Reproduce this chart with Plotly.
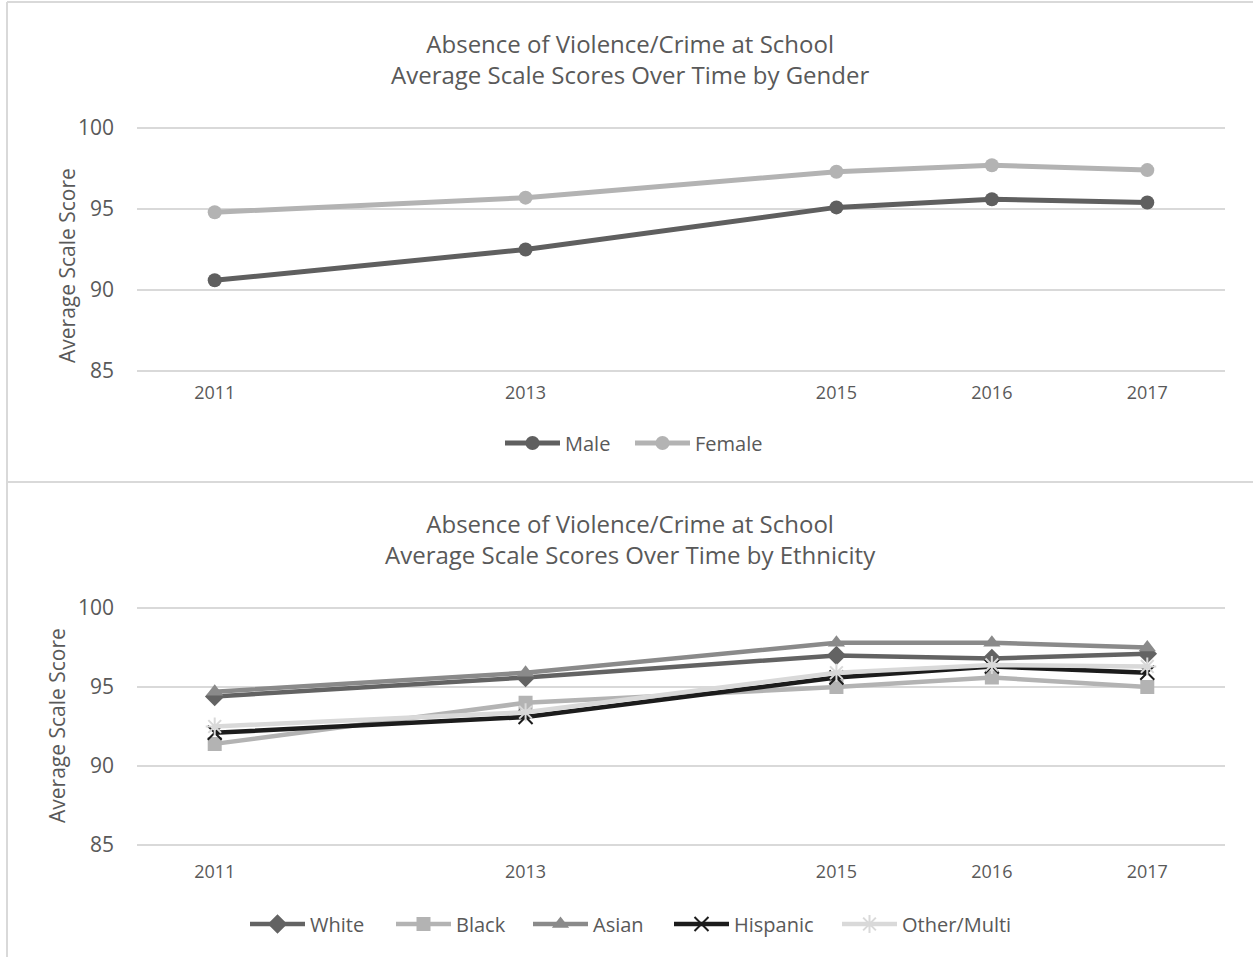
import plotly.graph_objects as go

years = [2011, 2013, 2015, 2016, 2017]
year_labels = ["2011", "2013", "2015", "2016", "2017"]

male = [90.6, 92.5, 95.1, 95.6, 95.4]
female = [94.8, 95.7, 97.3, 97.7, 97.4]

white = [94.4, 95.6, 97.0, 96.8, 97.1]
black = [91.4, 94.0, 95.0, 95.6, 95.0]
asian = [94.7, 95.9, 97.8, 97.8, 97.5]
hispanic = [92.1, 93.1, 95.6, 96.3, 95.9]
other = [92.5, 93.4, 95.9, 96.4, 96.3]

y_ticks = [85, 90, 95, 100]

FONT = "Open Sans"
TXT = "#595959"
W, H = 1253, 957

fig = go.Figure()

# legend item left edges (px) for each series
top_leg_x = [505, 635]
bot_leg_x = [250, 396, 533, 674, 842]

# Top chart (gender)
gender = [
    ("Male", male, "#5f5f5f"),
    ("Female", female, "#b3b3b3"),
]
for i, (name, vals, col) in enumerate(gender):
    fig.add_trace(go.Scatter(x=years, y=vals, name=name, mode="lines+markers",
                             line=dict(color=col, width=5),
                             marker=dict(symbol="circle", size=14, color=col),
                             xaxis="x", yaxis="y", legend="legend" if i == 0 else f"legend{i + 1}"))

# Bottom chart (ethnicity)
eth = [
    ("White", white, "#636363", dict(symbol="diamond", size=15, color="#636363")),
    ("Black", black, "#b3b3b3", dict(symbol="square", size=14, color="#b3b3b3")),
    ("Asian", asian, "#8a8a8a", dict(symbol="triangle-up", size=15, color="#8a8a8a")),
    ("Hispanic", hispanic, "#1c1c1c", dict(symbol="x-thin-open", size=14, color="#1c1c1c",
                                           line=dict(width=2, color="#1c1c1c"))),
    ("Other/Multi", other, "#d9d9d9", dict(symbol="asterisk-open", size=15, color="#d9d9d9",
                                           line=dict(width=2, color="#d9d9d9"))),
]
for j, (name, vals, col, mk) in enumerate(eth):
    fig.add_trace(go.Scatter(x=years, y=vals, name=name, mode="lines+markers",
                             line=dict(color=col, width=4.5), marker=mk,
                             xaxis="x2", yaxis="y2", legend=f"legend{j + 3}"))

PAD = 0.2
xdom = [137 / W, 1225 / W]
tpu = (371 - 128) / 15
top_dom = [1 - (371 + PAD * tpu) / H, 1 - (128 - PAD * tpu) / H]
bpu = (845 - 608) / 15
bot_dom = [1 - (845 + PAD * bpu) / H, 1 - (608 - PAD * bpu) / H]

xcommon = dict(range=[2010.5, 2017.5], tickvals=years, ticktext=year_labels,
               showgrid=False, zeroline=False, showline=False, ticks="", automargin=False,
               tickfont=dict(family=FONT, size=18, color=TXT), domain=xdom, fixedrange=True)
ycommon = dict(range=[85 - PAD, 100 + PAD], tickvals=y_ticks, showgrid=True, gridcolor="#d9d9d9",
               gridwidth=2, zeroline=False, showline=False, ticks="", automargin=False,
               tickfont=dict(family=FONT, size=21, color=TXT), ticklabelstandoff=22,
               fixedrange=True)


def leg(xpx, ypx):
    return dict(orientation="h", x=(xpx - 5) / W, xanchor="left", y=1 - ypx / H, yanchor="middle",
                font=dict(family=FONT, size=20, color=TXT), itemclick=False, itemwidth=55,
                bgcolor="rgba(0,0,0,0)")


legends = {}
for i, xp in enumerate(top_leg_x):
    legends["legend" if i == 0 else f"legend{i + 1}"] = leg(xp, 443)
for j, xp in enumerate(bot_leg_x):
    legends[f"legend{j + 3}"] = leg(xp, 924)

fig.update_layout(
    width=W, height=H,
    margin=dict(l=0, r=0, t=0, b=0, autoexpand=False),
    paper_bgcolor="white", plot_bgcolor="white",
    font=dict(family=FONT, color=TXT),
    xaxis=dict(**xcommon, anchor="y", ticklabelstandoff=6),
    yaxis=dict(**ycommon, domain=top_dom, anchor="x"),
    xaxis2=dict(**xcommon, anchor="y2", ticklabelstandoff=11),
    yaxis2=dict(**ycommon, domain=bot_dom, anchor="x2"),
    showlegend=True,
    **legends,
)

# Titles
fig.add_annotation(text="Absence of Violence/Crime at School<br>Average Scale Scores Over Time by Gender",
                   x=630 / W, y=1 - 59 / H, xref="paper", yref="paper", showarrow=False,
                   xanchor="center", yanchor="middle",
                   font=dict(family=FONT, size=24, color=TXT), align="center")
fig.add_annotation(text="Absence of Violence/Crime at School<br>Average Scale Scores Over Time by Ethnicity",
                   x=630 / W, y=1 - 539 / H, xref="paper", yref="paper", showarrow=False,
                   xanchor="center", yanchor="middle",
                   font=dict(family=FONT, size=24, color=TXT), align="center")

# Y axis titles
fig.add_annotation(text="Average Scale Score", x=67 / W, y=1 - 266 / H, xref="paper", yref="paper",
                   xanchor="center", yanchor="middle",
                   showarrow=False, textangle=-90, font=dict(family=FONT, size=21, color=TXT))
fig.add_annotation(text="Average Scale Score", x=57 / W, y=1 - 726 / H, xref="paper", yref="paper",
                   xanchor="center", yanchor="middle",
                   showarrow=False, textangle=-90, font=dict(family=FONT, size=21, color=TXT))

# Panel borders
border = dict(color="#d9d9d9", width=2)
fig.add_shape(type="line", xref="paper", yref="paper", x0=7 / W, x1=1, y0=1 - 2 / H, y1=1 - 2 / H, line=border)
fig.add_shape(type="line", xref="paper", yref="paper", x0=7 / W, x1=7 / W, y0=0, y1=1 - 2 / H, line=border)
fig.add_shape(type="line", xref="paper", yref="paper", x0=7 / W, x1=1, y0=1 - 482 / H, y1=1 - 482 / H, line=border)

fig.write_html("out.html")
